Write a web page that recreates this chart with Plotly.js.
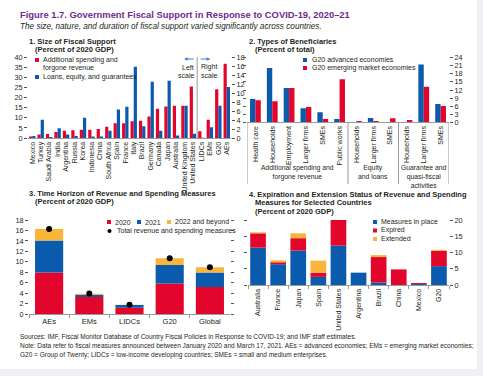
<!DOCTYPE html>
<html><head><meta charset="utf-8">
<script src="https://cdn.plot.ly/plotly-3.0.1.min.js"></script>
<style>html,body{margin:0;padding:0;background:#f0f0f2;}#chart{width:483px;height:376px;}</style>
</head><body><div id="chart"></div>
<script>
// ---------- Panel 1 data ----------
const countries = ['Mexico','Turkey','Saudi Arabia','India','Argentina','Russia','Korea','Indonesia','China','South Africa','Spain','France','Italy','Brazil','Germany','Canada','Japan','Australia','United Kingdom','United States'];
const addSpendCountries = [0.7,1.7,2.0,3.0,3.6,3.8,4.1,4.1,4.5,5.6,7.3,7.3,8.3,8.6,10.7,14.5,15.7,16.0,16.0,25.6];
const loansCountries   = [1.0,9.1,0.5,4.8,1.7,1.0,10.1,0.7,0.8,3.6,14.2,15.5,35.4,5.8,27.9,3.6,28.4,1.3,16.0,2.1];
const groups = ['LIDCs','EMs','G20','AEs'];
const addSpendGroups = [1.5,4.1,10.9,16.6];
const loansGroups    = [0.05,2.4,7.2,11.4];
// ---------- Panel 2 data ----------
const beneficiaryLabels = ['Health care','Households','Employment','Larger firms','SMEs','Public works','Households','Larger firms','SMEs','Households','Larger firms','SMEs'];
const g20Advanced = [8.7,20.2,12.7,5.2,3.7,1.2,0,1.6,0.1,0,21.5,6.8];
const g20Emerging = [8.2,7.8,12.7,5.7,1.2,16.0,0.5,0.5,1.5,0.9,13.2,6.1];
const beneficiaryGroups = ['Additional spending and<br>forgone revenue','Equity<br>and loans','Guarantee and<br>quasi-fiscal<br>activities'];
// ---------- Panel 3 data ----------
const horizonGroups = ['AEs','EMs','LIDCs','G20','Global'];
const y2020 = [8.0,3.3,1.27,5.9,5.2];
const y2021 = [6.1,0.4,0.5,3.5,2.8];
const y2022 = [2.2,0.2,0.05,1.3,1.0];
const totalMeasures = [16.3,3.95,1.8,10.7,9.0];
// ---------- Panel 4 data ----------
const statusCountries = ['Australia','France','Japan','Spain','United States','Argentina','Brazil','China','Mexico','G20'];
const inPlace  = [11.5,6.4,10.6,2.5,12.1,3.8,0.8,0,0.3,5.8];
const expired  = [4.4,0.6,3.8,1.3,7.9,0,7.8,4.8,0.3,4.7];
const extended = [0.3,0.6,1.5,3.7,0,0,0.6,0,0,0.3];

const RED='#E2062C', BLUE='#0A5BAE', YEL='#F9B53A', PURPLE='#6E2B8F', TXT='#231F20';
const FONT='"Liberation Sans Narrow", "Arial Narrow", "Liberation Sans", Arial, sans-serif';
const W=483, H=376;
const fx=p=>p/W, fy=p=>1-p/H;

const idx = a => a.map((_,i)=>i);
const traces = [
 {type:'bar', x:countries, y:addSpendCountries, xaxis:'x', yaxis:'y', marker:{color:RED}, width:0.38, offset:-0.38},
 {type:'bar', x:countries, y:loansCountries, xaxis:'x', yaxis:'y', marker:{color:BLUE}, width:0.38, offset:0},
 {type:'bar', x:groups, y:addSpendGroups, xaxis:'x', yaxis:'y2', marker:{color:RED}, width:0.38, offset:-0.38},
 {type:'bar', x:groups, y:loansGroups, xaxis:'x', yaxis:'y2', marker:{color:BLUE}, width:0.38, offset:0},

 {type:'bar', x:idx(beneficiaryLabels), y:g20Advanced, xaxis:'x2', yaxis:'y3', marker:{color:BLUE}, width:0.32, offset:-0.32},
 {type:'bar', x:idx(beneficiaryLabels), y:g20Emerging, xaxis:'x2', yaxis:'y3', marker:{color:RED}, width:0.32, offset:0},

 {type:'bar', x:horizonGroups, y:y2020, xaxis:'x3', yaxis:'y4', marker:{color:RED}, width:0.7},
 {type:'bar', x:horizonGroups, y:y2021, base:y2020, xaxis:'x3', yaxis:'y4', marker:{color:BLUE}, width:0.7},
 {type:'bar', x:horizonGroups, y:y2022, base:y2020.map((v,i)=>v+y2021[i]), xaxis:'x3', yaxis:'y4', marker:{color:YEL}, width:0.7},
 {type:'scatter', mode:'markers', x:horizonGroups, y:totalMeasures, xaxis:'x3', yaxis:'y4', marker:{color:'#000', size:6}},

 {type:'bar', x:statusCountries, y:inPlace, xaxis:'x4', yaxis:'y5', marker:{color:BLUE}, width:0.78},
 {type:'bar', x:statusCountries, y:expired, base:inPlace, xaxis:'x4', yaxis:'y5', marker:{color:RED}, width:0.78},
 {type:'bar', x:statusCountries, y:extended, base:inPlace.map((v,i)=>v+expired[i]), xaxis:'x4', yaxis:'y5', marker:{color:YEL}, width:0.78}
];

const tf = {family:FONT, size:7.3, color:TXT};
const xf = {family:FONT, size:7, color:TXT};
const yBase = {showgrid:false, zeroline:false, ticks:'outside', ticklen:3, tickwidth:1, tickcolor:'#555', tickfont:tf, showline:false, fixedrange:true};
const xBase = {showgrid:false, zeroline:false, showline:true, linecolor:'#9a9a9a', linewidth:1, tickfont:xf, fixedrange:true};

const layout = {
 width:W, height:H, margin:{l:0,r:0,t:0,b:0}, paper_bgcolor:'#f0f0f2', plot_bgcolor:'rgba(0,0,0,0)',
 barmode:'overlay', showlegend:false, font:{family:FONT, color:TXT},
 xaxis: Object.assign({}, xBase, {domain:[fx(28),fx(231)], anchor:'y', type:'category', categoryorder:'array', categoryarray:countries.concat(groups), range:[-0.5,23.5], tickangle:-90, ticks:''}),
 yaxis: Object.assign({}, yBase, {domain:[fy(138),fy(57.5)], anchor:'x', range:[0,40], dtick:5}),
 yaxis2: Object.assign({}, yBase, {overlaying:'y', side:'right', anchor:'x', range:[0,18], dtick:2}),

 xaxis2: Object.assign({}, xBase, {domain:[fx(247),fx(449)], anchor:'y3', range:[-0.5,11.5], tickvals:idx(beneficiaryLabels), ticktext:beneficiaryLabels, tickangle:-90, ticks:''}),
 yaxis3: Object.assign({}, yBase, {domain:[fy(122.3),fy(57.7)], anchor:'x2', side:'right', mirror:'ticks', range:[0,24], dtick:3}),

 xaxis3: Object.assign({}, xBase, {domain:[fx(29),fx(230)], anchor:'y4', type:'category', range:[-0.5,4.5], ticks:'outside', tickson:'boundaries', ticklen:3, tickcolor:'#9a9a9a', tickfont:{family:FONT,size:7.5,color:TXT}}),
 yaxis4: Object.assign({}, yBase, {domain:[fy(314.3),fy(220)], anchor:'x3', mirror:'ticks', range:[0,18], dtick:2}),

 xaxis4: Object.assign({}, xBase, {domain:[fx(248),fx(449)], anchor:'y5', type:'category', range:[-0.5,9.5], tickangle:-90, ticks:'outside', tickson:'boundaries', ticklen:3, tickcolor:'#9a9a9a'}),
 yaxis5: Object.assign({}, yBase, {domain:[fy(285),fy(220)], anchor:'x4', side:'right', mirror:'ticks', range:[0,20], dtick:5}),
 shapes:[], annotations:[]
};

// white page card
layout.shapes.push({type:'rect', xref:'paper', yref:'paper', x0:0, x1:fx(477), y0:fy(369), y1:1, fillcolor:'#ffffff', line:{width:0}, layer:'below'});

function txt(x,y,text,opts){
  layout.annotations.push(Object.assign({xref:'paper', yref:'paper', x:fx(x), y:fy(y), text:text, showarrow:false, xanchor:'left', yanchor:'middle', align:'left', font:{family:FONT, size:7, color:TXT}}, opts||{}));
}
function sq(x,y,color,s){ s=s||4; layout.shapes.push({type:'rect', xref:'paper', yref:'paper', x0:fx(x), x1:fx(x+s), y0:fy(y+s/2), y1:fy(y-s/2), fillcolor:color, line:{width:0}}); }

// titles
txt(18,15,'<b>Figure 1.7. Government Fiscal Support in Response to COVID-19, 2020–21</b>',{font:{family:FONT,size:9.4,color:PURPLE}});
txt(18,27,'<i>The size, nature, and duration of fiscal support varied significantly across countries.</i>',{font:{family:FONT,size:8.2,color:TXT}});
const tt={family:FONT,size:7.5,color:TXT};
txt(27,41,'<b>1. Size of Fiscal Support</b>',{font:tt});
txt(33,49.5,'<b>(Percent of 2020 GDP)</b>',{font:tt});
txt(247,41,'<b>2. Types of Beneficiaries</b>',{font:tt});
txt(253,49.5,'<b>(Percent of total)</b>',{font:tt});
txt(27,193,'<b>3. Time Horizon of Revenue and Spending Measures</b>',{font:tt});
txt(33,201.5,'<b>(Percent of 2020 GDP)</b>',{font:tt});
txt(247,194,'<b>4. Expiration and Extension Status of Revenue and Spending</b>',{font:tt});
txt(253,202.5,'<b>Measures for Selected Countries</b>',{font:tt});
txt(253,211,'<b>(Percent of 2020 GDP)</b>',{font:tt});

// panel 1 legend
sq(35,60,RED); txt(41,60,'Additional spending and'); txt(41,68.5,'forgone revenue');
sq(35,77,BLUE); txt(41,77,'Loans, equity, and guarantees');
// left/right scale
layout.shapes.push({type:'line', xref:'x', yref:'paper', x0:19.5, x1:19.5, y0:fy(138), y1:fy(57), line:{color:'#9a9a9a', width:1}});
const sf={family:FONT,size:7,color:TXT};
layout.annotations.push({xref:'x', yref:'paper', x:19.5, y:fy(67), xshift:-1.5, text:'Left', showarrow:false, xanchor:'right', yanchor:'middle', font:sf});
layout.annotations.push({xref:'x', yref:'paper', x:19.5, y:fy(75), xshift:-1.5, text:'scale', showarrow:false, xanchor:'right', yanchor:'middle', font:sf});
layout.annotations.push({xref:'x', yref:'paper', x:19.5, y:fy(67), xshift:1.5, text:'Right', showarrow:false, xanchor:'left', yanchor:'middle', font:sf});
layout.annotations.push({xref:'x', yref:'paper', x:19.5, y:fy(75), xshift:1.5, text:'scale', showarrow:false, xanchor:'left', yanchor:'middle', font:sf});
layout.annotations.push({xref:'x', yref:'paper', x:19.5, y:fy(59), xshift:-13, text:'', showarrow:true, ax:11, ay:0, arrowhead:2, arrowsize:0.7, arrowwidth:1, arrowcolor:'#3A7FD0'});
layout.annotations.push({xref:'x', yref:'paper', x:19.5, y:fy(59), xshift:13, text:'', showarrow:true, ax:-11, ay:0, arrowhead:2, arrowsize:0.7, arrowwidth:1, arrowcolor:'#3A7FD0'});

// panel 2 legend
sq(303,60,BLUE); txt(310,60,'G20 advanced economies');
sq(303,68,RED); txt(310,68,'G20 emerging market economies');
// panel 2 separators & group labels
[-0.5,5.5,8.5,11.5].forEach(v=>layout.shapes.push({type:'line', xref:'x2', yref:'paper', x0:v, x1:v, y0:fy(122.3), y1:fy(184), line:{color:'#9a9a9a', width:1}}));
[2.5,7,10].forEach((c,i)=>layout.annotations.push({xref:'x2', yref:'paper', x:c, y:fy(161.5), text:beneficiaryGroups[i], showarrow:false, xanchor:'center', yanchor:'top', align:'center', font:{family:FONT,size:6.8,color:TXT}}));

// panel 3 legend
sq(107,222,RED); txt(113,222,'2020');
sq(137,222,BLUE); txt(143,222,'2021');
sq(167,222,YEL); txt(173,222,'2022 and beyond');
layout.shapes.push({type:'circle', xref:'paper', yref:'paper', x0:fx(107.5), x1:fx(111.5), y0:fy(233), y1:fy(229), fillcolor:'#000', line:{width:0}});
txt(115,231,'Total revenue and spending measures');

// panel 4 legend
sq(373,222,BLUE); txt(379,222,'Measures in place');
sq(373,230.5,RED); txt(379,230.5,'Expired');
sq(373,239,YEL); txt(379,239,'Extended');

// footnotes
const fn={family:FONT,size:6.5,color:TXT};
txt(18,337,'Sources: IMF, Fiscal Monitor Database of Country Fiscal Policies in Response to COVID-19; and IMF staff estimates.',{font:fn});
txt(18,346,'Note: Data refer to fiscal measures announced between January 2020 and March 17, 2021. AEs = advanced economies; EMs = emerging market economies;',{font:fn});
txt(18,355,'G20 = Group of Twenty; LIDCs = low-income developing countries; SMEs = small and medium enterprises.',{font:fn});

Plotly.newPlot('chart', traces, layout, {staticPlot:true, displayModeBar:false});
</script></body></html>
